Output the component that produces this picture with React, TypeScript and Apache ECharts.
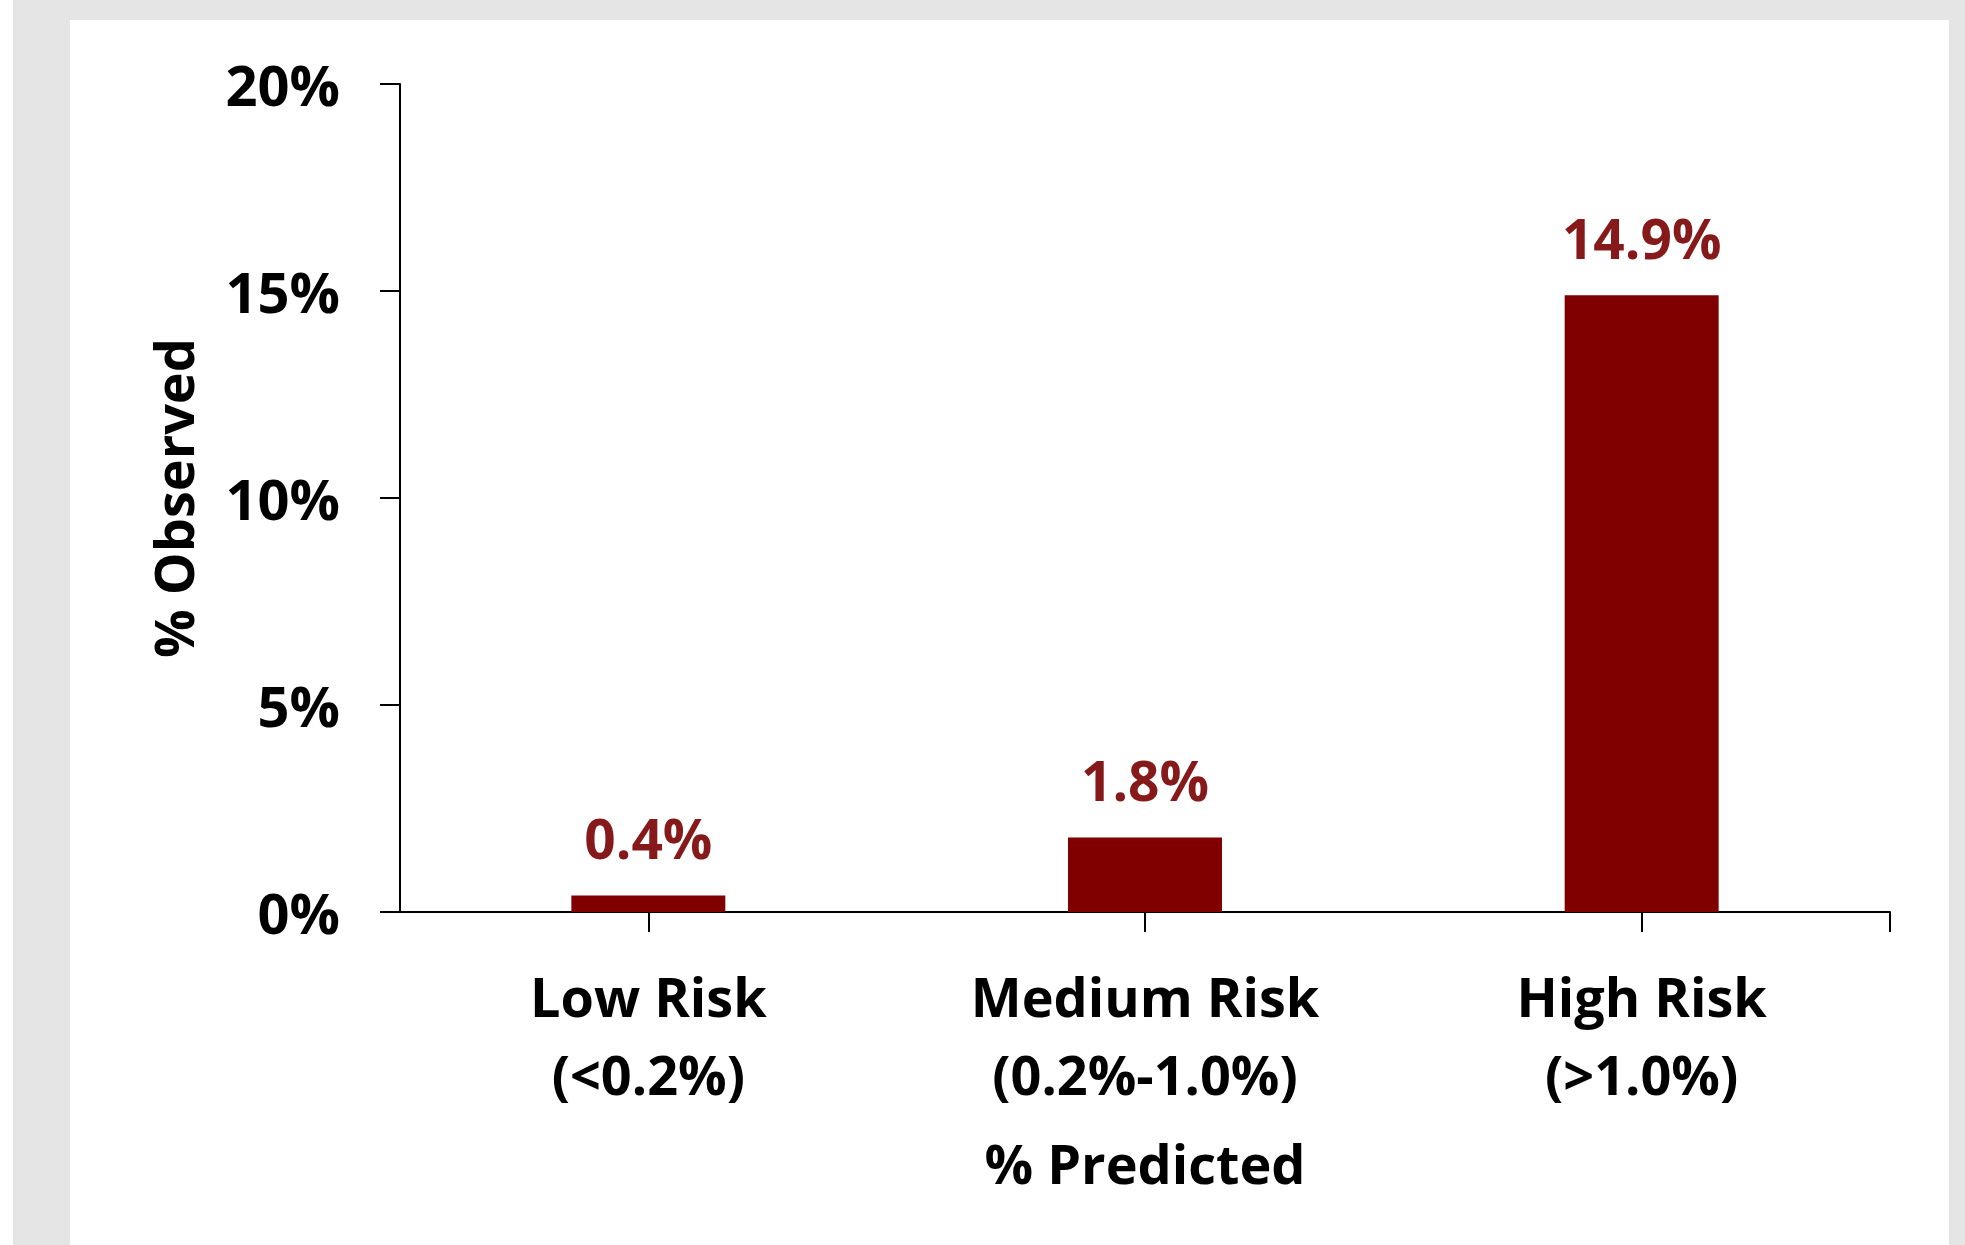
import React, { useEffect, useRef } from "react";
import * as echarts from "echarts";

const categories = ["Low Risk\n(<0.2%)", "Medium Risk\n(0.2%-1.0%)", "High Risk\n(>1.0%)"];
const observedValues = [0.4, 1.8, 14.9];
const yTicks = { min: 0, max: 20, interval: 5 };
const yAxisTitle = "% Observed";
const xAxisTitle = "% Predicted";

const FONT = "'Open Sans', 'Noto Sans', sans-serif";

export default function App() {
  const ref = useRef<HTMLDivElement>(null);

  useEffect(() => {
    if (!ref.current) return;
    const chart = echarts.init(ref.current, null, { renderer: "svg" });
    chart.setOption({
      animation: false,
      backgroundColor: "transparent",
      textStyle: { fontFamily: FONT },
      grid: { left: 400, right: 75, top: 84, bottom: 333, containLabel: false },
      xAxis: [
        {
          type: "category",
          data: categories,
          boundaryGap: true,
          name: xAxisTitle,
          nameLocation: "middle",
          nameGap: 224,
          nameTextStyle: {
            fontFamily: FONT,
            fontSize: 54,
            fontWeight: "bold",
            color: "#000",
            lineHeight: 54,
          },
          axisLine: { show: true, lineStyle: { color: "#000", width: 2 } },
          axisTick: {
            show: true,
            alignWithLabel: true,
            length: 20,
            lineStyle: { color: "#000", width: 2 },
          },
          axisLabel: {
            fontFamily: FONT,
            fontSize: 54,
            fontWeight: "bold",
            color: "#000",
            lineHeight: 78,
            margin: 45,
            interval: 0,
          },
          splitLine: { show: false },
        },
        {
          type: "value",
          position: "bottom",
          min: 0,
          max: categories.length,
          axisLine: { show: false },
          axisTick: {
            show: true,
            length: 20,
            customValues: [categories.length],
            lineStyle: { color: "#000", width: 2 },
          },
          axisLabel: { show: false },
          splitLine: { show: false },
        },
      ],
      yAxis: {
        type: "value",
        min: yTicks.min,
        max: yTicks.max,
        interval: yTicks.interval,
        name: yAxisTitle,
        nameLocation: "middle",
        nameGap: 200,
        nameRotate: 90,
        nameTextStyle: {
          fontFamily: FONT,
          fontSize: 54,
          fontWeight: "bold",
          color: "#000",
          lineHeight: 54,
        },
        axisLine: { show: true, lineStyle: { color: "#000", width: 2 } },
        axisTick: { show: true, length: 20, lineStyle: { color: "#000", width: 2 } },
        axisLabel: {
          fontFamily: FONT,
          fontSize: 56,
          fontWeight: "bold",
          color: "#000",
          margin: 60,
          formatter: "{value}%",
        },
        splitLine: { show: false },
      },
      series: [
        {
          type: "bar",
          data: observedValues,
          xAxisIndex: 0,
          barWidth: "31%",
          itemStyle: { color: "#800000" },
          label: {
            show: true,
            position: "top",
            distance: 30,
            fontFamily: FONT,
            fontSize: 55,
            fontWeight: "bold",
            color: "#861a1a",
            lineHeight: 55,
            formatter: (p: any) => Number(p.value).toFixed(1) + "%",
          },
        },
      ],
    });
    return () => chart.dispose();
  }, []);

  return (
    <div
      style={{
        position: "fixed",
        left: 0,
        top: 0,
        width: 1965,
        height: 1245,
        background: "#ffffff",
        overflow: "hidden",
      }}
    >
      <div
        style={{
          position: "absolute",
          left: 13,
          top: 0,
          right: 0,
          bottom: 0,
          background: "#e5e5e5",
        }}
      />
      <div
        style={{
          position: "absolute",
          left: 70,
          top: 20,
          width: 1879,
          height: 1225,
          background: "#ffffff",
        }}
      />
      <div
        ref={ref}
        style={{ position: "absolute", left: 0, top: 0, width: 1965, height: 1245 }}
      />
    </div>
  );
}
